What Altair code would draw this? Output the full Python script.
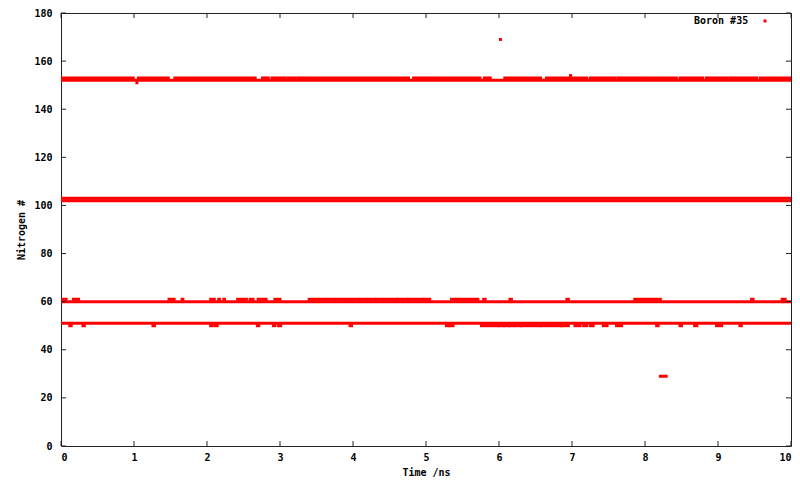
import altair as alt
import pandas as pd

# Axis ticks
x_ticks = [0, 1, 2, 3, 4, 5, 6, 7, 8, 9, 10]
y_ticks = [0, 20, 40, 60, 80, 100, 120, 140, 160, 180]

SERIES = "Boron #35"

# Runs of consecutive frames (start ns, end ns) at each nitrogen index
n169_runs = [(6.02, 6.02)]
n154_runs = [(6.98, 6.98)]
n153_runs = [(0.00, 0.99), (1.06, 1.47), (1.56, 2.66), (2.76, 2.84), (2.89, 3.07),
             (3.11, 3.21), (3.25, 3.39), (3.43, 4.76), (4.83, 5.13), (5.17, 5.74),
             (5.80, 5.88), (6.08, 6.57), (6.65, 7.20), (7.25, 7.59), (7.63, 7.98),
             (8.02, 8.43), (8.48, 8.79), (8.84, 9.12), (9.16, 9.53), (9.58, 10.00)]
n152_runs = [(0.00, 10.00)]
n151_runs = [(1.04, 1.04)]
n103_runs = [(0.00, 10.00)]
n102_runs = [(0.00, 10.00)]
n61_runs = [(0.00, 0.07), (0.17, 0.24), (1.48, 1.55), (1.66, 1.67), (2.05, 2.10),
            (2.16, 2.17), (2.23, 2.24), (2.42, 2.54), (2.59, 2.63), (2.70, 2.73),
            (2.77, 2.81), (2.93, 3.00), (3.40, 3.62), (3.65, 3.75), (3.78, 3.94),
            (3.98, 4.07), (4.10, 4.18), (4.21, 4.30), (4.32, 4.39), (4.42, 4.48),
            (4.51, 4.60), (4.62, 4.74), (4.76, 4.83), (4.87, 4.95), (4.98, 5.05),
            (5.35, 5.40), (5.42, 5.71), (5.79, 5.81), (6.15, 6.17), (6.93, 6.95),
            (7.86, 8.16), (8.20, 8.21), (9.46, 9.48), (9.88, 9.92)]
n60_runs = [(0.00, 10.00)]
n51_runs = [(0.00, 10.00)]
n50_runs = [(0.12, 0.14), (0.30, 0.32), (1.26, 1.28), (2.05, 2.07), (2.11, 2.14),
            (2.69, 2.71), (2.91, 2.93), (2.98, 3.01), (3.96, 3.98), (5.28, 5.31),
            (5.33, 5.37), (5.76, 5.99), (6.01, 6.06), (6.08, 6.13), (6.15, 6.20),
            (6.22, 6.29), (6.31, 6.56), (6.58, 6.84), (6.86, 6.95), (7.04, 7.11),
            (7.16, 7.20), (7.25, 7.29), (7.43, 7.48), (7.61, 7.68), (8.16, 8.18),
            (8.48, 8.50), (8.68, 8.71), (8.98, 9.05), (9.30, 9.32)]
n29_runs = [(8.21, 8.29)]

groups = [(169, n169_runs), (154, n154_runs), (153, n153_runs), (152, n152_runs),
          (151, n151_runs), (103, n103_runs), (102, n102_runs), (61, n61_runs),
          (60, n60_runs), (51, n51_runs), (50, n50_runs), (29, n29_runs)]

rows = []
for n, runs in groups:
    for s, e in runs:
        rows.append({"start": s, "end": e, "nitrogen": n, "series": SERIES})
df = pd.DataFrame(rows)

xt = pd.DataFrame({"t": x_ticks})
yt = pd.DataFrame({"v": y_ticks})

FONT = "DejaVu Sans Mono"
AX = "#222222"
W, H, TICK = 730, 433, 5

xscale = alt.Scale(domain=[0, 10], nice=False, zero=False)
yscale = alt.Scale(domain=[0, 180], nice=False, zero=False)

main = alt.Chart(df).mark_rule(strokeWidth=3, strokeCap="square", clip=True).encode(
    x=alt.X("start:Q", scale=xscale,
            axis=alt.Axis(orient="bottom", values=x_ticks, title="Time /ns", format="d",
                          ticks=False, domain=False, grid=False,
                          labelPadding=6, titlePadding=5)),
    x2="end:Q",
    y=alt.Y("nitrogen:Q", scale=yscale,
            axis=alt.Axis(orient="left", values=y_ticks, title="Nitrogen #", format="d",
                          ticks=False, domain=False, grid=False,
                          labelPadding=9, titlePadding=7)),
    color=alt.Color("series:N", scale=alt.Scale(range=["#ff0000"]),
                    legend=alt.Legend(title=SERIES, titleOrient="left", titlePadding=11,
                                      titleFont=FONT, titleFontSize=10, titleFontWeight="bold",
                                      titleColor="black", titleBaseline="middle",
                                      orient="none", legendX=633, legendY=3,
                                      symbolType="square", symbolSize=9,
                                      symbolFillColor="#ff0000", symbolStrokeWidth=0,
                                      labelExpr="''", labelFontSize=10,
                                      padding=0)),
)

# inward tick marks on all four sides (gnuplot style)
xtick_bottom = alt.Chart(xt).mark_rule(color=AX, strokeWidth=1).encode(
    x=alt.X("t:Q", scale=xscale, axis=None), y=alt.value(H), y2=alt.value(H - TICK))
xtick_top = alt.Chart(xt).mark_rule(color=AX, strokeWidth=1).encode(
    x=alt.X("t:Q", scale=xscale, axis=None), y=alt.value(0), y2=alt.value(TICK))
ytick_left = alt.Chart(yt).mark_rule(color=AX, strokeWidth=1).encode(
    y=alt.Y("v:Q", scale=yscale, axis=None), x=alt.value(0), x2=alt.value(TICK))
ytick_right = alt.Chart(yt).mark_rule(color=AX, strokeWidth=1).encode(
    y=alt.Y("v:Q", scale=yscale, axis=None), x=alt.value(W), x2=alt.value(W - TICK))

chart = alt.layer(main, xtick_bottom, xtick_top, ytick_left, ytick_right).resolve_axis(
    x="independent", y="independent").properties(
    width=W, height=H,
    autosize=alt.AutoSizeParams(type="none"),
    padding={"left": 53, "top": 5, "right": 1, "bottom": 34},
).configure_view(stroke=AX, strokeWidth=1).configure_axis(
    labelFont=FONT, labelFontSize=10, labelFontWeight="bold", labelColor="black",
    titleFont=FONT, titleFontSize=10, titleFontWeight="bold", titleColor="black",
)

chart.save("out.html", embed_options={"renderer": "svg", "actions": False})
